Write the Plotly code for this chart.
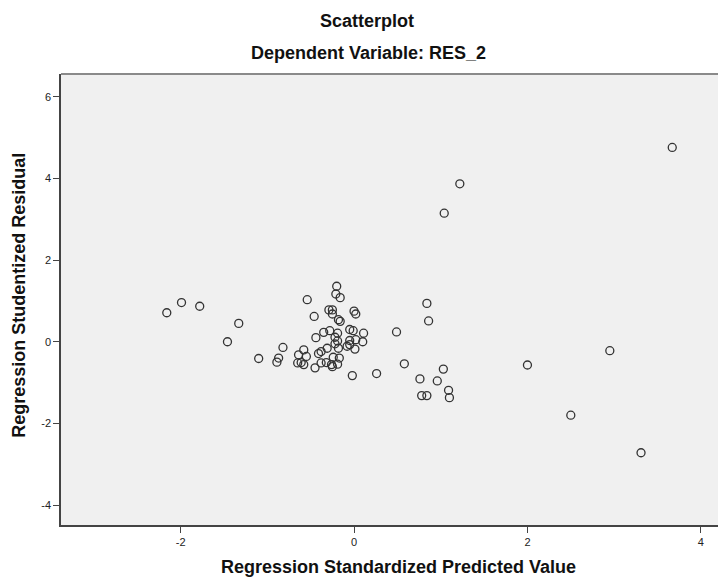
import plotly.graph_objects as go

# Regression Standardized Predicted Value
pred = [3.67, 1.22, 1.04, 2.00, 2.95, 2.50, 3.31,
        0.84, 0.86, 0.49, 0.26, 0.58, 0.76, 1.03, 0.96, 1.09, 1.10, 0.78, 0.84,
        -2.16, -1.99, -1.78, -1.33, -1.46, -1.10,
        -0.20, -0.21, -0.16, -0.54, -0.46, -0.29, -0.25, -0.25, -0.18, -0.16,
        0.00, 0.02, -0.28, -0.35, -0.19, -0.05, -0.01, 0.11, -0.44, -0.22,
        -0.19, -0.05, 0.02, 0.10, -0.82, -0.58, -0.38, -0.31, -0.18, -0.08,
        -0.05, 0.01, -0.41, -0.64, -0.55, -0.24, -0.17, -0.87, -0.89, -0.65,
        -0.58, -0.61, -0.38, -0.32, -0.26, -0.19, -0.45, -0.25, -0.02, -0.22]

# Regression Studentized Residual
resid = [4.76, 3.87, 3.15, -0.57, -0.22, -1.80, -2.72,
         0.94, 0.51, 0.24, -0.78, -0.54, -0.91, -0.67, -0.96, -1.19, -1.37, -1.32, -1.32,
         0.71, 0.96, 0.87, 0.45, 0.00, -0.41,
         1.36, 1.17, 1.08, 1.03, 0.62, 0.78, 0.78, 0.68, 0.54, 0.50,
         0.75, 0.68, 0.27, 0.23, 0.21, 0.30, 0.27, 0.21, 0.10, 0.11,
         0.02, 0.03, 0.05, 0.00, -0.14, -0.20, -0.24, -0.16, -0.16, -0.11,
         -0.07, -0.18, -0.29, -0.32, -0.36, -0.38, -0.40, -0.40, -0.50, -0.52,
         -0.56, -0.51, -0.52, -0.51, -0.56, -0.55, -0.64, -0.61, -0.83, -0.05]

x_ticks = [-2, 0, 2, 4]
y_ticks = [-4, -2, 0, 2, 4, 6]

title_text = "Scatterplot"
subtitle_text = "Dependent Variable: RES_2"
x_title = "Regression Standardized Predicted Value"
y_title = "Regression Studentized Residual"

FONT = "Liberation Sans, Arial, sans-serif"

fig = go.Figure()
fig.add_trace(go.Scatter(
    x=pred, y=resid, mode="markers",
    marker=dict(symbol="circle-open", size=8, color="#333333",
                line=dict(width=1.3, color="#333333")),
    showlegend=False, hoverinfo="x+y",
))

# page body has an 8px margin; figure coords = screen coords - 8
OFF = 8
W, H = 718, 571
ml, mr, mt, mb = 53, 0, 66, 53.5

fig.update_layout(
    width=W, height=H,
    margin=dict(l=ml, r=mr, t=mt, b=mb),
    paper_bgcolor="white",
    plot_bgcolor="#F0F0F0",
    font=dict(family=FONT, color="#222222", size=11),
    xaxis=dict(range=[-3.38, 4.29], tickvals=x_ticks, ticktext=[str(v) for v in x_ticks],
               showgrid=False, zeroline=False, showline=True, linecolor="#444444",
               linewidth=1.5, ticks="outside", ticklen=6, tickcolor="#444444",
               tickfont=dict(size=11, family=FONT, color="#222222")),
    yaxis=dict(range=[-4.49, 6.56], tickvals=y_ticks, ticktext=[str(v) for v in y_ticks],
               showgrid=False, zeroline=False, showline=True, linecolor="#444444",
               linewidth=1.5, ticks="outside", ticklen=6, tickcolor="#444444",
               tickfont=dict(size=11, family=FONT, color="#222222")),
)

# top border of plot area
fig.add_shape(type="line", xref="paper", yref="paper", x0=0, x1=1, y0=1, y1=1,
              line=dict(color="#8A8A8A", width=2))

pw = W - ml - mr
ph = H - mt - mb

def sx(px):
    return (px - OFF - ml) / pw

def sy(py):
    return (H - mb - (py - OFF)) / ph

bold = dict(family=FONT, color="#111111", weight="bold")

fig.add_annotation(text=title_text, xref="paper", yref="paper",
                   x=sx(367), y=sy(21), showarrow=False,
                   font=dict(size=18, **bold), xanchor="center", yanchor="middle")
fig.add_annotation(text=subtitle_text, xref="paper", yref="paper",
                   x=sx(368), y=sy(53), showarrow=False,
                   font=dict(size=18, **bold), xanchor="center", yanchor="middle")
fig.add_annotation(text=x_title, xref="paper", yref="paper",
                   x=sx(398), y=sy(568), showarrow=False,
                   font=dict(size=18, **bold), xanchor="center", yanchor="middle")
fig.add_annotation(text=y_title, xref="paper", yref="paper",
                   x=sx(19), y=sy(296), showarrow=False, textangle=-90,
                   font=dict(size=18, **bold), xanchor="center", yanchor="middle")

fig.write_html("out.html")
